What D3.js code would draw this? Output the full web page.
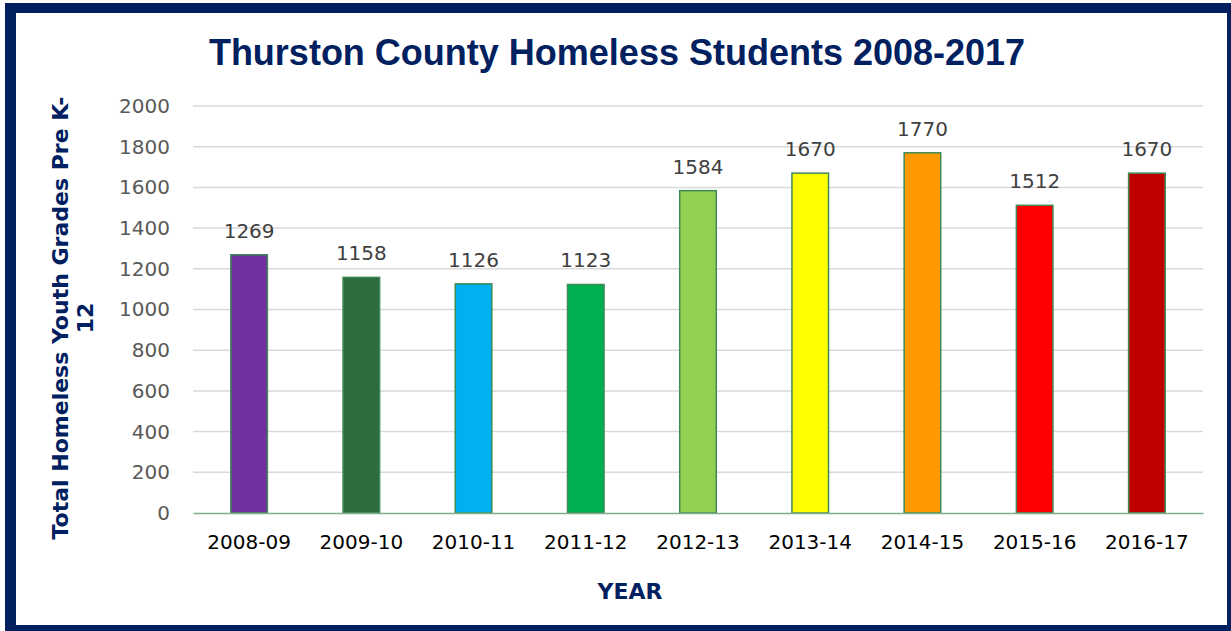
<!DOCTYPE html>
<html lang="en">
<head>
    <meta charset="UTF-8">
    <title>Thurston County Homeless Students 2008-2017</title>
    <style>
        body { margin: 0; background: #fff; }
        svg { display: block; font-family: "DejaVu Sans", sans-serif; }
    </style>
</head>
<body>
    <div id="chart"></div>
    <script src="https://d3js.org/d3.v7.min.js"></script>
    <script>
        const years   = ["2008-09","2009-10","2010-11","2011-12","2012-13","2013-14","2014-15","2015-16","2016-17"];
        const counts  = [1269, 1158, 1126, 1123, 1584, 1670, 1770, 1512, 1670];
        const colors  = ["#7030A0","#2E6B3E","#00B0F0","#00B050","#92D050","#FFFF00","#FF9900","#FF0000","#C00000"];
        const yTicks  = [0, 200, 400, 600, 800, 1000, 1200, 1400, 1600, 1800, 2000];

        const width = 1231, height = 631;
        const navy = "#002060";
        const m = {top: 106, right: 28, bottom: 118, left: 193};

        const svg = d3.select("#chart").append("svg")
            .attr("width", width).attr("height", height);

        // frame
        svg.append("rect").attr("x", 5).attr("y", 3).attr("width", width - 5).attr("height", height - 3).attr("fill", navy);
        svg.append("rect").attr("x", 16).attr("y", 13).attr("width", 1211).attr("height", 612).attr("fill", "#fff");

        const x = d3.scaleBand().domain(years).range([m.left, width - m.right]).paddingInner(0.674).paddingOuter(0.337);
        const y = d3.scaleLinear().domain([0, 2000]).range([height - m.bottom, m.top]);

        // grid
        svg.append("g")
            .selectAll("line").data(yTicks.filter(d => d > 0)).join("line")
            .attr("x1", m.left).attr("x2", width - m.right)
            .attr("y1", d => y(d)).attr("y2", d => y(d))
            .attr("stroke", "#d9d9d9").attr("stroke-width", 1.5);

        // y axis labels
        const yAxis = svg.append("g")
            .attr("transform", `translate(${m.left},0)`)
            .call(d3.axisLeft(y).tickValues(yTicks).tickFormat(d3.format("d")).tickSize(0).tickPadding(23));
        yAxis.select(".domain").remove();
        yAxis.selectAll("text").attr("font-size", 20).attr("fill", "#595959").attr("font-family", "DejaVu Sans");

        // bars
        svg.append("g")
            .selectAll("rect").data(years).join("rect")
            .attr("x", d => x(d)).attr("width", x.bandwidth())
            .attr("y", (d, i) => y(counts[i]))
            .attr("height", (d, i) => y(0) - y(counts[i]))
            .attr("fill", (d, i) => colors[i])
            .attr("stroke", "#3f8a55").attr("stroke-width", 1.5);

        // value labels
        svg.append("g")
            .selectAll("text").data(years).join("text")
            .attr("x", d => x(d) + x.bandwidth() / 2)
            .attr("y", (d, i) => y(counts[i]) - 17)
            .attr("text-anchor", "middle")
            .attr("font-size", 20).attr("fill", "#404040")
            .text((d, i) => counts[i]);

        // x axis
        const xAxis = svg.append("g")
            .attr("transform", `translate(0,${y(0)})`)
            .call(d3.axisBottom(x).tickSize(0).tickPadding(22));
        xAxis.select(".domain").attr("stroke", "#7fae8a").attr("stroke-width", 1.5);
        xAxis.selectAll("text").attr("font-size", 20).attr("fill", "#000").attr("font-family", "DejaVu Sans");

        // titles
        svg.append("text").attr("x", 617).attr("y", 65)
            .attr("text-anchor", "middle").attr("font-family", "Liberation Sans").attr("font-size", 36)
            .attr("font-weight", "bold").attr("fill", navy)
            .text("Thurston County Homeless Students 2008-2017");

        svg.append("text").attr("x", 630).attr("y", 599)
            .attr("text-anchor", "middle").attr("font-size", 22).attr("font-weight", "bold").attr("fill", navy)
            .text("YEAR");

        const yt = svg.append("text")
            .attr("transform", "translate(68,318) rotate(-90)")
            .attr("text-anchor", "middle").attr("font-size", 22).attr("font-weight", "bold").attr("fill", navy);
        yt.append("tspan").attr("x", 0).attr("dy", 0).text("Total Homeless Youth Grades Pre K-");
        yt.append("tspan").attr("x", 0).attr("dy", 25).text("12");
    </script>
</body>
</html>
